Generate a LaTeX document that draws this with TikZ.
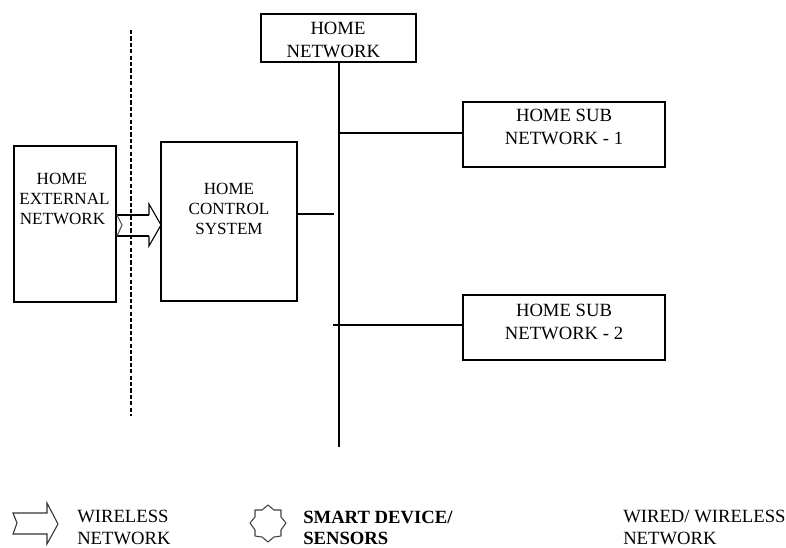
\documentclass[tikz,border=0pt]{standalone}
\usepackage{fontspec}
\setmainfont{Liberation Serif}
\tikzset{
  x=0.75pt,y=-0.75pt,
  box/.style={draw,line width=1.4pt,inner sep=0pt},
  wire/.style={line width=1.4pt},
  label/.style={font=\fontsize{14pt}{15pt}\selectfont,align=center,inner sep=0pt},
  tight/.style={font=\fontsize{12.8pt}{15.2pt}\selectfont,align=center,inner sep=0pt},
  leg/.style={font=\fontsize{14pt}{17pt}\selectfont,align=left,inner sep=0pt,anchor=north west},
  headline/.style={draw,line width=0.8pt,line join=miter},
  shaft/.style={line width=1.6pt}
}
\begin{document}
\begin{tikzpicture}
\useasboundingbox (0,0) rectangle (786,547);
\node[box,minimum width=116.25pt,minimum height=36pt] (net) at (338.5,38) {};
\node[box,minimum width=76.5pt,minimum height=117pt] (ext) at (65,224) {};
\node[box,minimum width=102pt,minimum height=119.25pt] (ctl) at (229,221.5) {};
\node[box,minimum width=151.5pt,minimum height=48.75pt] (subA) at (564,134.5) {};
\node[box,minimum width=151.5pt,minimum height=48.75pt] (subB) at (564,327.5) {};
\node[label] (netT) at (336,40) {HOME\hspace*{-3pt}\\[2pt]NETWORK\hspace*{4pt}};
\node[tight] (extT) at (64.5,199) {HOME\hspace*{4pt}\\EXTERNAL\\NETWORK\hspace*{3pt}};
\node[tight] (ctlT) at (229,209) {HOME\\CONTROL\\SYSTEM};
\node[label] (subAT) at (564,127) {HOME SUB\\[2pt]NETWORK - 1};
\node[label] (subBT) at (564,322) {HOME SUB\\[2pt]NETWORK - 2};
\coordinate (busTop) at (339,62);
\coordinate (busEnd) at (339,447);
\coordinate (tapA) at (339,133);
\coordinate (tapB) at (333,325);
\coordinate (tapC) at (334,214);
\coordinate (dashA) at (131,30);
\coordinate (dashB) at (131,416);
\draw[wire] (net.south -| busTop) -- (busEnd);
\draw[wire] (tapA) -- (tapA -| subA.west);
\draw[wire] (tapB) -- (tapB -| subB.west);
\draw[wire] (tapC -| ctl.east) -- (tapC);
\draw[line width=1.6pt,dash pattern=on 3.2pt off 1.6pt] (dashA) -- (dashB);
\draw[shaft] (117,215) -- (149,215) (117,236) -- (149,236);
\draw[headline] (149,215) -- (149,204) -- (161,225) -- (149,246) -- (149,236);
\draw[headline,black!70] (117,215) -- (122,225) -- (117,236);
\draw[line width=0.8pt,black!80] (13,513) -- (47,513) -- (47,503) -- (58,524) -- (47,544) -- (47,534) -- (13,534) -- (17,523) -- cycle;
\draw[line width=0.8pt,black!75,line join=round] (268,505) -- (274,510) -- (281,510) -- (281,517) -- (286,523) -- (281,530) -- (281,536) -- (274,537) -- (268,542) -- (262,537) -- (255,536) -- (255,530) -- (250,523) -- (255,517) -- (255,510) -- (262,510) -- cycle;
\node[leg] (legA) at (77,509.5) {WIRELESS\\NETWORK};
\node[leg,font=\fontsize{14pt}{15.5pt}\selectfont\bfseries] (legB) at (303,511) {SMART DEVICE/\\SENSORS};
\node[leg] (legC) at (623,509.5) {WIRED/ WIRELESS\\NETWORK};
\end{tikzpicture}
\end{document}
